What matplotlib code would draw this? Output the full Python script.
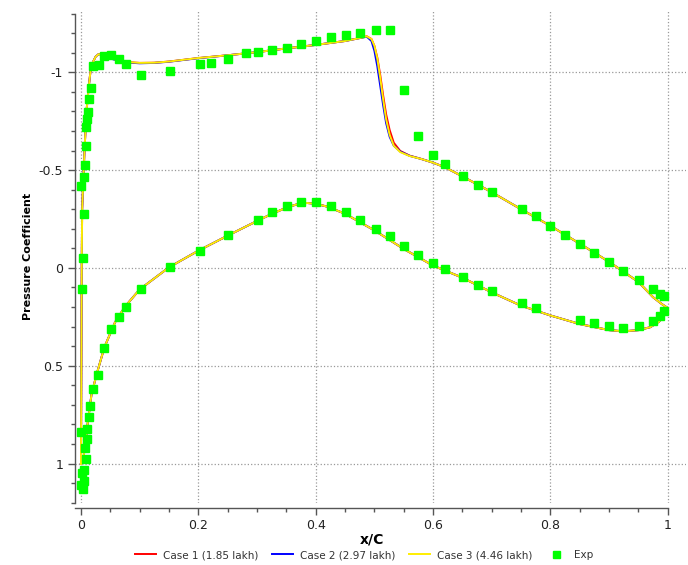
import matplotlib
matplotlib.use("Agg")
import matplotlib.pyplot as plt
from matplotlib.ticker import MultipleLocator, FormatStrFormatter

# ---- CFD surface Cp (closed loop: LE -> upper -> TE -> lower -> LE) ----
x_cfd = [0.000, 0.0005, 0.001, 0.0015, 0.002, 0.004, 0.006, 0.008, 0.010, 0.013,
         0.016, 0.020, 0.025, 0.030, 0.040, 0.055, 0.075, 0.100, 0.125, 0.150,
         0.200, 0.250, 0.300, 0.350, 0.400, 0.450, 0.475, 0.487, 0.495, 0.500,
         0.505, 0.510, 0.515, 0.520, 0.526, 0.533, 0.544, 0.560, 0.580, 0.600,
         0.620, 0.650, 0.700, 0.750, 0.800, 0.850, 0.900, 0.950, 0.975, 0.990,
         1.000,
         0.993, 0.985, 0.970, 0.950, 0.925, 0.900, 0.850, 0.800, 0.750, 0.700,
         0.650, 0.600, 0.550, 0.500, 0.450, 0.420, 0.400, 0.385, 0.370, 0.350,
         0.325, 0.300, 0.250, 0.200, 0.150, 0.100, 0.075, 0.058, 0.040, 0.027,
         0.018, 0.012, 0.007, 0.003, 0.000]

cp_case3 = [1.00, 0.60, 0.20, -0.10, -0.30, -0.45, -0.60, -0.72, -0.82, -0.92,
            -1.00, -1.05, -1.08, -1.093, -1.088, -1.068, -1.053, -1.048, -1.049, -1.055,
            -1.073, -1.087, -1.103, -1.122, -1.140, -1.160, -1.175, -1.184, -1.170, -1.135,
            -1.070, -0.970, -0.860, -0.760, -0.680, -0.625, -0.592, -0.572, -0.557, -0.538,
            -0.515, -0.468, -0.387, -0.300, -0.215, -0.124, -0.031, 0.072, 0.150, 0.185,
            0.205,
            0.245, 0.275, 0.303, 0.318, 0.324, 0.318, 0.287, 0.243, 0.193, 0.125,
            0.050, -0.012, -0.097, -0.192, -0.277, -0.313, -0.328, -0.332, -0.327, -0.308,
            -0.276, -0.240, -0.165, -0.088, -0.003, 0.110, 0.198, 0.278, 0.405, 0.540,
            0.645, 0.780, 0.915, 0.990, 1.00]

cp_case2 = [1.00, 0.60, 0.20, -0.10, -0.30, -0.45, -0.60, -0.72, -0.82, -0.92,
            -1.00, -1.05, -1.08, -1.093, -1.088, -1.066, -1.051, -1.046, -1.048, -1.054,
            -1.072, -1.087, -1.103, -1.122, -1.140, -1.160, -1.175, -1.182, -1.160, -1.110,
            -1.030, -0.930, -0.830, -0.740, -0.670, -0.625, -0.595, -0.573, -0.557, -0.538,
            -0.515, -0.468, -0.387, -0.300, -0.215, -0.124, -0.031, 0.072, 0.150, 0.185,
            0.205,
            0.245, 0.275, 0.303, 0.318, 0.324, 0.318, 0.287, 0.243, 0.193, 0.125,
            0.050, -0.012, -0.097, -0.192, -0.277, -0.313, -0.328, -0.332, -0.327, -0.308,
            -0.276, -0.240, -0.165, -0.088, -0.003, 0.110, 0.198, 0.278, 0.405, 0.540,
            0.645, 0.780, 0.915, 0.990, 1.00]

cp_case1 = [1.00, 0.60, 0.20, -0.10, -0.30, -0.45, -0.60, -0.72, -0.82, -0.92,
            -1.00, -1.05, -1.08, -1.093, -1.088, -1.068, -1.053, -1.048, -1.049, -1.055,
            -1.073, -1.087, -1.103, -1.122, -1.140, -1.160, -1.175, -1.184, -1.170, -1.135,
            -1.075, -0.985, -0.880, -0.785, -0.705, -0.640, -0.598, -0.574, -0.557, -0.538,
            -0.515, -0.468, -0.387, -0.300, -0.215, -0.124, -0.031, 0.072, 0.150, 0.185,
            0.205,
            0.245, 0.275, 0.303, 0.318, 0.324, 0.318, 0.287, 0.243, 0.193, 0.125,
            0.050, -0.012, -0.097, -0.192, -0.277, -0.313, -0.328, -0.332, -0.327, -0.308,
            -0.276, -0.240, -0.165, -0.088, -0.003, 0.110, 0.198, 0.278, 0.405, 0.540,
            0.645, 0.780, 0.915, 0.990, 1.00]

# ---- Experimental data ----
exp_x = [0.000, 0.005, 0.007, 0.008, 0.008, 0.010, 0.012, 0.014, 0.017, 0.020,
         0.031, 0.039, 0.051, 0.064, 0.077, 0.102, 0.151, 0.202, 0.221, 0.251,
         0.282, 0.301, 0.326, 0.351, 0.375, 0.401, 0.426, 0.451, 0.476, 0.502,
         0.526, 0.551, 0.575, 0.600, 0.620, 0.651, 0.677, 0.700, 0.751, 0.776,
         0.800, 0.825, 0.850, 0.875, 0.900, 0.924, 0.951, 0.975, 0.987, 0.994,
         0.005, 0.003, 0.002,
         0.994, 0.987, 0.975, 0.951, 0.924, 0.900, 0.875, 0.850, 0.776, 0.751,
         0.700, 0.677, 0.651, 0.620, 0.600, 0.575, 0.551, 0.526, 0.502, 0.476,
         0.451, 0.426, 0.401, 0.375, 0.351, 0.326, 0.301, 0.251, 0.202, 0.151,
         0.102, 0.077, 0.064, 0.051, 0.040, 0.029, 0.020, 0.016, 0.014, 0.011,
         0.010, 0.007, 0.009, 0.006, 0.001, 0.006, 0.000, 0.004, 0.000]
exp_cp = [-0.417, -0.465, -0.525, -0.624, -0.722, -0.763, -0.799, -0.864, -0.918, -1.033,
          -1.039, -1.082, -1.090, -1.068, -1.041, -0.988, -1.007, -1.041, -1.046, -1.070,
          -1.097, -1.106, -1.115, -1.126, -1.147, -1.158, -1.181, -1.191, -1.201, -1.215,
          -1.215, -0.910, -0.673, -0.576, -0.533, -0.472, -0.422, -0.387, -0.300, -0.264,
          -0.215, -0.170, -0.124, -0.077, -0.031, 0.017, 0.061, 0.109, 0.133, 0.145,
          -0.274, -0.049, 0.106,
          0.218, 0.247, 0.271, 0.298, 0.305, 0.295, 0.283, 0.268, 0.206, 0.179,
          0.120, 0.087, 0.046, 0.007, -0.027, -0.068, -0.112, -0.162, -0.201, -0.243,
          -0.284, -0.317, -0.337, -0.337, -0.318, -0.284, -0.247, -0.170, -0.088, -0.003,
          0.106, 0.198, 0.251, 0.312, 0.409, 0.549, 0.620, 0.704, 0.760, 0.822,
          0.876, 0.922, 0.977, 1.033, 1.047, 1.087, 1.109, 1.132, 0.838]

labels = ["Case 1 (1.85 lakh)", "Case 2 (2.97 lakh)", "Case 3 (4.46 lakh)", "Exp"]
colors = ["#ff0000", "#0000ff", "#ffee00", "#00ff00"]

plt.rcParams['font.family'] = ['DejaVu Sans']

fig = plt.figure(figsize=(6.88, 5.65), dpi=100)
ax = fig.add_axes([0.1090, 0.1103, 0.8881, 0.8708])

ax.plot(x_cfd, cp_case1, color=colors[0], lw=1.4, label=labels[0], zorder=3)
ax.plot(x_cfd, cp_case2, color=colors[1], lw=1.4, label=labels[1], zorder=4)
ax.plot(x_cfd, cp_case3, color=colors[2], lw=1.4, label=labels[2], zorder=5)
ax.plot(exp_x, exp_cp, linestyle='none', marker='s', markersize=6.3,
        color=colors[3], markeredgecolor=colors[3], label=labels[3], zorder=6)

ax.set_xlim(-0.0102, 1.031)
ax.set_ylim(1.2, -1.315)

ax.xaxis.set_major_locator(MultipleLocator(0.2))
ax.xaxis.set_minor_locator(MultipleLocator(0.05))
ax.yaxis.set_major_locator(MultipleLocator(0.5))
ax.yaxis.set_minor_locator(MultipleLocator(0.1))
ax.xaxis.set_major_formatter(FormatStrFormatter('%g'))
ax.yaxis.set_major_formatter(FormatStrFormatter('%g'))

ax.grid(True, which='major', linestyle=':', color='#999999', linewidth=0.9)

for s in ['top', 'right']:
    ax.spines[s].set_visible(False)
ax.spines['left'].set_bounds(1.2, -1.30)
ax.spines['bottom'].set_bounds(-0.0102, 1.0)
ax.spines['bottom'].set_position(('outward', 4))
for s in ['left', 'bottom']:
    ax.spines[s].set_color('#555555')
    ax.spines[s].set_linewidth(1.0)

ax.tick_params(axis='both', which='major', labelsize=9, colors='#555555',
               labelcolor='#222222', length=5, width=1)
ax.tick_params(axis='both', which='minor', colors='#555555', length=3, width=1)
ax.tick_params(axis='x', pad=3)

ax.set_xlabel('x/C', fontsize=10, fontweight='bold')
ax.xaxis.set_label_coords(0.486, -0.0600)
ax.set_ylabel('Pressure Coefficient', fontsize=8, fontweight='bold', labelpad=4)

handles, labs = ax.get_legend_handles_labels()
fig.legend(handles, labs, loc='center', bbox_to_anchor=(364 / 688, 1 - 555 / 565),
           ncol=4, frameon=False, fontsize=7.5, handlelength=2.0, columnspacing=1.3,
           handletextpad=0.7, labelcolor='#333333', markerscale=0.8)

fig.savefig('out.png', dpi=100)
